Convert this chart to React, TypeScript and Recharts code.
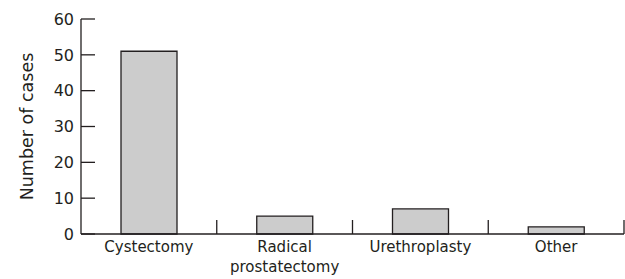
import React from 'react';
import { BarChart, Bar, XAxis, YAxis } from 'recharts';

// Procedures and case counts
const procedures = ['Cystectomy', 'Radical\nprostatectomy', 'Urethroplasty', 'Other'];
const cases = [51, 5, 7, 2];
const yTicks = [0, 10, 20, 30, 40, 50, 60];

const data = procedures.map((name, i) => ({ name, cases: cases[i] }));

const FONT = '"DejaVu Sans", sans-serif';
const INK = '#231f20';
const LABEL_GAP = 7;
const DIVIDER = 14;

// category label (may span two lines) plus an upward divider at the band's right edge
function ProcedureTick(props: any) {
    const { x, y, payload } = props;
    const lines = String(payload.value).split('\n');
    const axisY = y - LABEL_GAP;
    const edge = typeof payload.offset === 'number' ? x + payload.offset : null;
    return (
        <g>
            {edge !== null && (
                <line x1={edge} x2={edge} y1={axisY} y2={axisY - DIVIDER} stroke={INK} strokeWidth={1.3} />
            )}
            <text x={x} y={y} textAnchor="middle" fill={INK} fontFamily={FONT} fontSize={15}>
                {lines.map((line: string, i: number) => (
                    <tspan key={i} x={x} dy={i === 0 ? '0.71em' : 20}>
                        {line}
                    </tspan>
                ))}
            </text>
        </g>
    );
}

export default function App() {
    return (
        <div style={{ position: 'absolute', left: 0, top: 0, background: '#fff' }}>
            <BarChart
                width={625}
                height={279}
                data={data}
                margin={{ top: 19, right: 1, bottom: 0, left: 0 }}
            >
                <XAxis
                    dataKey="name"
                    axisLine={{ stroke: INK, strokeWidth: 1.3 }}
                    tickLine={false}
                    tickSize={0}
                    tickMargin={LABEL_GAP}
                    height={45}
                    interval={0}
                    tick={<ProcedureTick />}
                />
                <YAxis
                    domain={[0, 60]}
                    ticks={yTicks}
                    width={81}
                    tickSize={-14}
                    tickMargin={21}
                    axisLine={{ stroke: INK, strokeWidth: 1.3 }}
                    tickLine={{ stroke: INK, strokeWidth: 1.3 }}
                    tick={{ fill: INK, fontFamily: FONT, fontSize: 16 }}
                    label={{
                        value: 'Number of cases',
                        angle: -90,
                        position: 'center',
                        dx: -14,
                        fill: INK,
                        fontFamily: FONT,
                        fontSize: 17.5,
                    }}
                />
                <Bar
                    dataKey="cases"
                    barSize={56}
                    fill="#cccccc"
                    stroke={INK}
                    strokeWidth={1.3}
                    isAnimationActive={false}
                />
            </BarChart>
        </div>
    );
}
